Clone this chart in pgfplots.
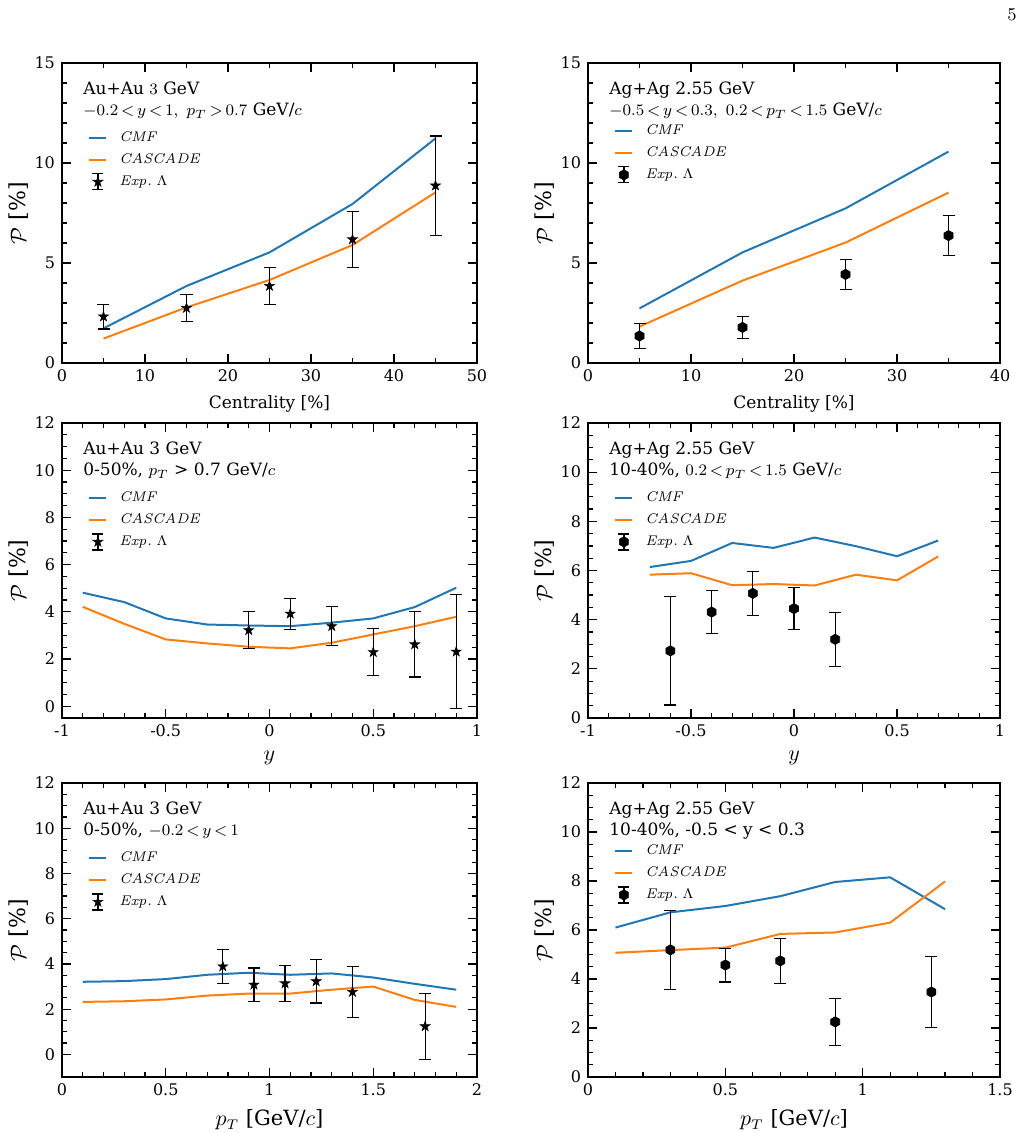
\documentclass[border=0pt]{standalone}
\usepackage[no-math]{fontspec}
\setmainfont{DejaVu Serif}
\usepackage{pgfplots}
\pgfplotsset{compat=1.18}
\definecolor{tabblue}{HTML}{1F77B4}
\definecolor{taborange}{HTML}{FF7F0E}
\pgfdeclareplotmark{fstar}{%
  \pgfpathmoveto{\pgfpointpolar{90}{\pgfplotmarksize}}%
  \pgfpathlineto{\pgfpointpolar{126}{0.382\pgfplotmarksize}}%
  \pgfpathlineto{\pgfpointpolar{162}{\pgfplotmarksize}}%
  \pgfpathlineto{\pgfpointpolar{198}{0.382\pgfplotmarksize}}%
  \pgfpathlineto{\pgfpointpolar{234}{\pgfplotmarksize}}%
  \pgfpathlineto{\pgfpointpolar{270}{0.382\pgfplotmarksize}}%
  \pgfpathlineto{\pgfpointpolar{306}{\pgfplotmarksize}}%
  \pgfpathlineto{\pgfpointpolar{342}{0.382\pgfplotmarksize}}%
  \pgfpathlineto{\pgfpointpolar{18}{\pgfplotmarksize}}%
  \pgfpathlineto{\pgfpointpolar{54}{0.382\pgfplotmarksize}}%
  \pgfpathclose\pgfusepathqfillstroke}
\pgfdeclareplotmark{hexagon*}{%
  \pgfpathmoveto{\pgfpointpolar{90}{\pgfplotmarksize}}%
  \pgfpathlineto{\pgfpointpolar{150}{\pgfplotmarksize}}%
  \pgfpathlineto{\pgfpointpolar{210}{\pgfplotmarksize}}%
  \pgfpathlineto{\pgfpointpolar{270}{\pgfplotmarksize}}%
  \pgfpathlineto{\pgfpointpolar{330}{\pgfplotmarksize}}%
  \pgfpathlineto{\pgfpointpolar{30}{\pgfplotmarksize}}%
  \pgfpathclose\pgfusepathqfillstroke}
\tikzset{note/.style={anchor=north west, inner sep=0pt, align=left,
    font=\fontsize{8.5}{10.5}\selectfont, xshift=10.5pt, yshift=-9.3pt}}
\pgfplotsset{
  panel/.style={scale only axis, axis line style={line width=0.9pt},
    tick align=inside, xtick pos=both, ytick pos=both,
    major tick length=4.5pt, minor tick length=2.5pt,
    every tick/.style={black, line width=0.6pt},
    tick label style={font=\fontsize{8}{9}\selectfont},
    /pgf/number format/assume math mode=true,
    ylabel={$\mathcal{P}$ [\%]}, ylabel shift=-4pt,
    ylabel style={font=\fontsize{11}{13}\selectfont},
    legend cell align=left,
    legend style={draw=none, fill=none, at={(0,1)}, anchor=north west,
      xshift=13pt, yshift=-34pt, inner sep=0pt, row sep=4.5pt,
      font=\fontsize{7.2}{8}\selectfont,
      nodes={inner sep=0pt, text height=5pt, text depth=1.5pt}},
    every axis legend/.append style={column sep=6pt},
  },
  cmf/.style={tabblue, line width=1pt, mark=none,
    legend image code/.code={\draw[##1] (0pt,0pt)--(8.5pt,0pt);}},
  cas/.style={taborange, line width=1pt, mark=none,
    legend image code/.code={\draw[##1] (0pt,0pt)--(8.5pt,0pt);}},
  expdata/.style={black, only marks, mark size=2.6pt, mark options={line width=0.3pt},
    legend image code/.code={%
      \draw[overlay, black, line width=0.6pt] (4.25pt,-4pt)--(4.25pt,4pt)
        (1.5pt,-4pt)--(7pt,-4pt) (1.5pt,4pt)--(7pt,4pt);
      \draw[##1] plot coordinates {(4.25pt,0pt)};},
    error bars/.cd, y dir=both, y explicit,
    error bar style={line width=0.6pt, black},
    error mark options={rotate=90, mark size=3pt, line width=0.6pt, black}},
}
\begin{document}
\begin{tikzpicture}
\useasboundingbox (0,0) rectangle (512pt,-566.5pt);
\node[anchor=base east, inner sep=0pt, font=\fontsize{9}{10}\selectfont] at (508.5pt,-10.3pt) {$5$};

% ---------- Panel 1 ----------
\begin{axis}[panel, at={(31pt,-31.5pt)}, anchor=north west, width=207.5pt, height=150pt,
  xmin=0, xmax=50, ymin=0, ymax=15, xtick={0,10,...,50}, ytick={0,5,10,15},
  minor x tick num=1, minor y tick num=4,
  xlabel={Centrality [\%]}, xlabel style={font=\fontsize{8.5}{10}\selectfont}]
\addplot[cmf] coordinates {(5,1.73)(15,3.85)(25,5.53)(35,7.95)(45,11.23)};
\addlegendentry{$\mathit{CMF}$}
\addplot[cas] coordinates {(5,1.22)(15,2.78)(25,4.15)(35,5.9)(45,8.53)};
\addlegendentry{$\mathit{CASCADE}$}
\addplot[mark=fstar, expdata] table[x=x, y=y, y error=e, row sep=\\] {
x y e\\ 5 2.32 0.62\\ 15 2.75 0.68\\ 25 3.85 0.92\\ 35 6.18 1.4\\ 45 8.87 2.48\\};
\addlegendentry{$\mathit{Exp.}\ \Lambda$}
\node[note] at (rel axis cs:0,1) {Au+Au $3$ GeV\\$-0.2\,{<}\,y\,{<}\,1,\ p_T\,{>}\,0.7$ GeV/$c$};
\end{axis}

% ---------- Panel 2 ----------
\begin{axis}[panel, at={(294pt,-31.5pt)}, anchor=north west, width=206pt, height=150pt,
  xmin=0, xmax=40, ymin=0, ymax=15, xtick={0,10,...,40}, ytick={0,5,10,15},
  minor x tick num=1, minor y tick num=4, legend style={yshift=3.5pt},
  xlabel={Centrality [\%]}, xlabel style={font=\fontsize{8.5}{10}\selectfont}]
\addplot[cmf] coordinates {(5,2.73)(15,5.53)(25,7.73)(35,10.57)};
\addlegendentry{$\mathit{CMF}$}
\addplot[cas] coordinates {(5,1.82)(15,4.12)(25,6.02)(35,8.52)};
\addlegendentry{$\mathit{CASCADE}$}
\addplot[mark=hexagon*, expdata] table[x=x, y=y, y error=e, row sep=\\] {
x y e\\ 5 1.35 0.63\\ 15 1.78 0.55\\ 25 4.43 0.75\\ 35 6.37 1.0\\};
\addlegendentry{$\mathit{Exp.}\ \Lambda$}
\node[note] at (rel axis cs:0,1) {Ag+Ag 2.55 GeV\\$-0.5\,{<}\,y\,{<}\,0.3,\ 0.2\,{<}\,p_T\,{<}\,1.5$ GeV/$c$};
\end{axis}

% ---------- Panel 3 ----------
\begin{axis}[panel, at={(31pt,-211.5pt)}, anchor=north west, width=207.5pt, height=147.5pt,
  xmin=-1, xmax=1, ymin=-0.5, ymax=12, xtick={-1,-0.5,0,0.5,1}, ytick={0,2,...,12},
  minor x tick num=4, minor y tick num=3,
  xlabel={$y$}, xlabel style={font=\fontsize{11}{13}\selectfont}]
\addplot[cmf] coordinates {(-0.9,4.81)(-0.7,4.41)(-0.5,3.72)(-0.3,3.46)(-0.1,3.42)(0.1,3.39)(0.3,3.54)(0.5,3.72)(0.7,4.2)(0.9,5.02)};
\addlegendentry{$\mathit{CMF}$}
\addplot[cas] coordinates {(-0.9,4.21)(-0.7,3.49)(-0.5,2.83)(-0.3,2.66)(-0.1,2.52)(0.1,2.45)(0.3,2.69)(0.5,3.04)(0.7,3.39)(0.9,3.79)};
\addlegendentry{$\mathit{CASCADE}$}
\addplot[mark=fstar, expdata] table[x=x, y=y, y error=e, row sep=\\] {
x y e\\ -0.1 3.22 0.78\\ 0.1 3.92 0.66\\ 0.3 3.39 0.82\\ 0.5 2.29 0.99\\ 0.7 2.62 1.38\\ 0.9 2.31 2.42\\};
\addlegendentry{$\mathit{Exp.}\ \Lambda$}
\node[note] at (rel axis cs:0,1) {Au+Au 3 GeV\\0-50\%, $p_T$ > 0.7 GeV/$c$};
\end{axis}

% ---------- Panel 4 ----------
\begin{axis}[panel, at={(294pt,-211.5pt)}, anchor=north west, width=206pt, height=147.5pt,
  xmin=-1, xmax=1, ymin=0, ymax=12, xtick={-1,-0.5,0,0.5,1}, ytick={0,2,...,12},
  minor x tick num=4, minor y tick num=3,
  xlabel={$y$}, xlabel style={font=\fontsize{11}{13}\selectfont}]
\addplot[cmf] coordinates {(-0.7,6.14)(-0.5,6.39)(-0.3,7.12)(-0.1,6.92)(0.1,7.34)(0.3,6.99)(0.5,6.58)(0.7,7.22)};
\addlegendentry{$\mathit{CMF}$}
\addplot[cas] coordinates {(-0.7,5.83)(-0.5,5.89)(-0.3,5.4)(-0.1,5.45)(0.1,5.39)(0.3,5.83)(0.5,5.6)(0.7,6.57)};
\addlegendentry{$\mathit{CASCADE}$}
\addplot[mark=hexagon*, expdata] table[x=x, y=y, y error=e, row sep=\\] {
x y e\\ -0.6 2.73 2.2\\ -0.4 4.31 0.87\\ -0.2 5.07 0.9\\ 0 4.45 0.86\\ 0.2 3.2 1.1\\};
\addlegendentry{$\mathit{Exp.}\ \Lambda$}
\node[note] at (rel axis cs:0,1) {Ag+Ag 2.55 GeV\\10-40\%, $0.2\,{<}\,p_T\,{<}\,1.5$ GeV/$c$};
\end{axis}

% ---------- Panel 5 ----------
\begin{axis}[panel, at={(31pt,-391.5pt)}, anchor=north west, width=207.5pt, height=147pt,
  xmin=0, xmax=2, ymin=-1, ymax=12, xtick={0,0.5,1,1.5,2}, ytick={0,2,...,12},
  minor x tick num=4, minor y tick num=3,
  xlabel={$p_T$ [GeV/$c$]}, xlabel style={font=\fontsize{10.5}{12}\selectfont}]
\addplot[cmf] coordinates {(0.1,3.21)(0.3,3.24)(0.5,3.33)(0.7,3.52)(0.9,3.61)(1.1,3.52)(1.3,3.58)(1.5,3.4)(1.7,3.12)(1.9,2.86)};
\addlegendentry{$\mathit{CMF}$}
\addplot[cas] coordinates {(0.1,2.32)(0.3,2.35)(0.5,2.43)(0.7,2.6)(0.9,2.69)(1.1,2.69)(1.3,2.86)(1.5,3.0)(1.7,2.41)(1.9,2.1)};
\addlegendentry{$\mathit{CASCADE}$}
\addplot[mark=fstar, expdata] table[x=x, y=y, y error=e, row sep=\\] {
x y e\\ 0.775 3.89 0.74\\ 0.925 3.08 0.74\\ 1.075 3.14 0.8\\ 1.225 3.23 0.96\\ 1.4 2.76 1.14\\ 1.75 1.24 1.47\\};
\addlegendentry{$\mathit{Exp.}\ \Lambda$}
\node[note] at (rel axis cs:0,1) {Au+Au 3 GeV\\0-50\%, $-0.2\,{<}\,y\,{<}\,1$};
\end{axis}

% ---------- Panel 6 ----------
\begin{axis}[panel, at={(294pt,-391.5pt)}, anchor=north west, width=206pt, height=147pt,
  xmin=0, xmax=1.5, ymin=0, ymax=12, xtick={0,0.5,1,1.5}, ytick={0,2,...,12},
  minor x tick num=4, minor y tick num=3, legend style={yshift=3.5pt},
  xlabel={$p_T$ [GeV/$c$]}, xlabel style={font=\fontsize{10.5}{12}\selectfont}]
\addplot[cmf] coordinates {(0.1,6.1)(0.3,6.72)(0.5,6.98)(0.7,7.38)(0.9,7.96)(1.1,8.15)(1.3,6.85)};
\addlegendentry{$\mathit{CMF}$}
\addplot[cas] coordinates {(0.1,5.07)(0.3,5.18)(0.5,5.28)(0.7,5.84)(0.9,5.9)(1.1,6.3)(1.3,7.98)};
\addlegendentry{$\mathit{CASCADE}$}
\addplot[mark=hexagon*, expdata] table[x=x, y=y, y error=e, row sep=\\] {
x y e\\ 0.3 5.19 1.62\\ 0.5 4.57 0.69\\ 0.7 4.74 0.91\\ 0.9 2.25 0.96\\ 1.25 3.47 1.46\\};
\addlegendentry{$\mathit{Exp.}\ \Lambda$}
\node[note] at (rel axis cs:0,1) {Ag+Ag 2.55 GeV\\10-40\%, -0.5 < y < 0.3};
\end{axis}
\end{tikzpicture}
\end{document}
